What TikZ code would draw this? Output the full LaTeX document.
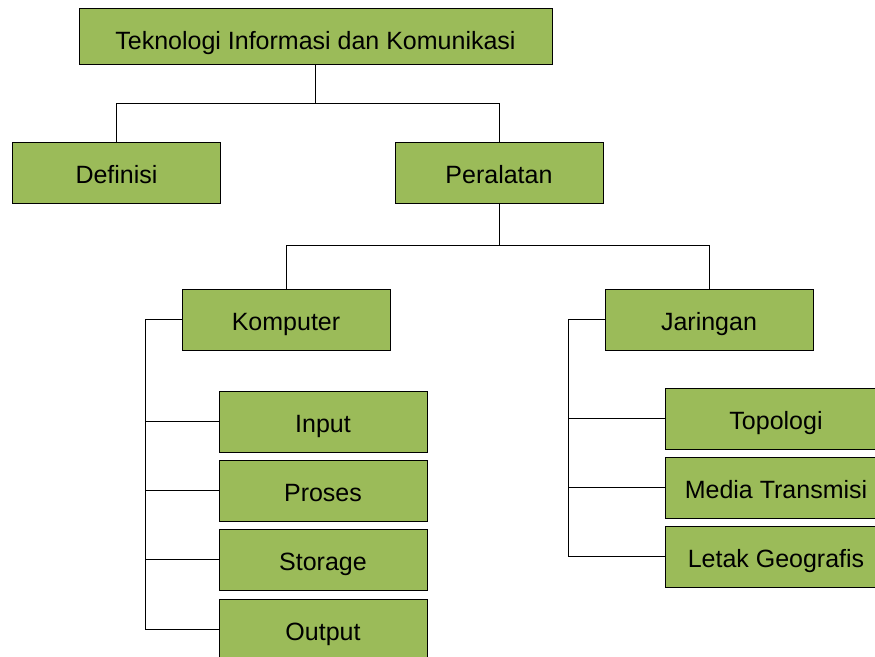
\documentclass[tikz,border=0pt]{standalone}
\usepackage{fontspec}
\setmainfont{Liberation Sans}
\usetikzlibrary{positioning}
\definecolor{boxgreen}{RGB}{155,187,89}
\tikzstyle{topic} = [rectangle, minimum width=208pt, minimum height=61pt, inner sep=0pt, text height=25pt, text depth=4pt, text centered, draw=black, line width=1pt, fill=boxgreen, font=\fontsize{25}{30}\selectfont]
\tikzstyle{wide} = [topic, minimum width=222pt]
\tikzstyle{root} = [topic, minimum width=473pt, minimum height=56pt, text height=28pt, text depth=2pt]
\tikzstyle{link} = [line width=0.8pt, black]

\begin{document}
\begin{tikzpicture}[x=1pt, y=1pt, node distance=69pt]
\useasboundingbox (0,0) rectangle (875,-656);
\node (TIK)[root] at (315.5,-36){Teknologi Informasi dan Komunikasi};
\node (Definisi)[topic, below of=TIK, node distance=136.5pt, xshift=-199pt]{Definisi};
\node (Peralatan)[topic, right of=Definisi, node distance=382.5pt]{Peralatan};
\coordinate (busTIK) at (315.5,-103);
\draw [link](TIK) -- (busTIK);
\draw [link](busTIK) -| (Definisi);
\draw [link](busTIK) -| (Peralatan);

\node (Komputer)[topic, below of=Peralatan, node distance=147pt, xshift=-213pt]{Komputer};
\node (Jaringan)[topic, right of=Komputer, node distance=423pt]{Jaringan};
\coordinate (busAlat) at (499,-245);
\draw [link](Peralatan) -- (busAlat);
\draw [link](busAlat) -| (Komputer);
\draw [link](busAlat) -| (Jaringan);

\node (Input)[topic, below of=Komputer, node distance=102pt, xshift=37pt]{Input};
\node (Proses)[topic, below of=Input]{Proses};
\node (Storage)[topic, below of=Proses]{Storage};
\node (Output)[topic, below of=Storage, node distance=70pt]{Output};
\coordinate (spineKomp) at (145,-319.5);
\draw [link](Komputer.west) -- (spineKomp);
\draw [link](spineKomp) |- (Input.west);
\draw [link](spineKomp) |- (Proses.west);
\draw [link](spineKomp) |- (Storage.west);
\draw [link](spineKomp) |- (Output.west);

\node (Topologi)[wide, below of=Jaringan, node distance=99pt, xshift=67pt]{Topologi};
\node (Media)[wide, below of=Topologi]{Media Transmisi};
\node (Letak)[wide, below of=Media]{Letak Geografis};
\coordinate (spineJar) at (568,-319.5);
\draw [link](Jaringan.west) -- (spineJar);
\draw [link](spineJar) |- (Topologi.west);
\draw [link](spineJar) |- (Media.west);
\draw [link](spineJar) |- (Letak.west);
\end{tikzpicture}
\end{document}
